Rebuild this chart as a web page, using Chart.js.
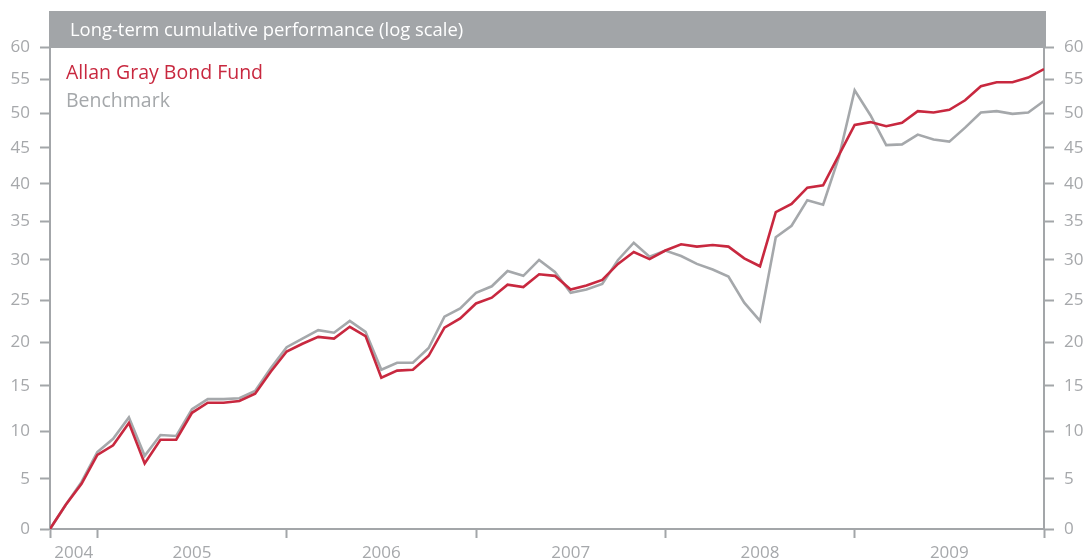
<!DOCTYPE html>
<html>
<head>
<meta charset="utf-8">
<script src="https://cdn.jsdelivr.net/npm/chart.js@4.4.1/dist/chart.umd.min.js"></script>
<style>
  html, body { margin: 0; padding: 0; background: #ffffff; }
  #wrap { width: 1089px; height: 560px; position: relative; }
</style>
</head>
<body>
<div id="wrap"><canvas id="c" width="1089" height="560"></canvas></div>
<script>
// ---- Data (cumulative performance, %), monthly from end Sep 2004 to end Dec 2009 ----
const months = [
  'Sep 2004','Oct 2004','Nov 2004','Dec 2004',
  'Jan 2005','Feb 2005','Mar 2005','Apr 2005','May 2005','Jun 2005','Jul 2005','Aug 2005','Sep 2005','Oct 2005','Nov 2005','Dec 2005',
  'Jan 2006','Feb 2006','Mar 2006','Apr 2006','May 2006','Jun 2006','Jul 2006','Aug 2006','Sep 2006','Oct 2006','Nov 2006','Dec 2006',
  'Jan 2007','Feb 2007','Mar 2007','Apr 2007','May 2007','Jun 2007','Jul 2007','Aug 2007','Sep 2007','Oct 2007','Nov 2007','Dec 2007',
  'Jan 2008','Feb 2008','Mar 2008','Apr 2008','May 2008','Jun 2008','Jul 2008','Aug 2008','Sep 2008','Oct 2008','Nov 2008','Dec 2008',
  'Jan 2009','Feb 2009','Mar 2009','Apr 2009','May 2009','Jun 2009','Jul 2009','Aug 2009','Sep 2009','Oct 2009','Nov 2009','Dec 2009'
];
const fundValues = [
  0, 2.4, 4.5, 7.5,
  8.5, 10.9, 6.6, 9.1, 9.1, 12.0, 13.1, 13.1, 13.3, 14.1, 16.6, 18.9,
  19.8, 20.6, 20.4, 21.8, 20.7, 15.9, 16.7, 16.8, 18.4, 21.7, 22.8, 24.6,
  25.3, 26.9, 26.6, 28.2, 28.0, 26.3, 26.8, 27.5, 29.5, 31.0, 30.1, 31.2,
  32.0, 31.7, 31.9, 31.7, 30.2, 29.2, 36.2, 37.3, 39.5, 39.8, 44.0, 48.3,
  48.7, 48.1, 48.6, 50.3, 50.1, 50.5, 51.9, 54.0, 54.6, 54.6, 55.3, 56.6
];
const benchmarkValues = [
  0, 2.4, 4.7, 7.8,
  9.2, 11.5, 7.4, 9.6, 9.5, 12.4, 13.5, 13.5, 13.6, 14.4, 17.0, 19.4,
  20.4, 21.4, 21.1, 22.5, 21.2, 16.8, 17.6, 17.6, 19.3, 23.0, 24.0, 25.9,
  26.7, 28.6, 28.0, 30.0, 28.5, 25.9, 26.3, 27.0, 30.0, 32.2, 30.4, 31.2,
  30.5, 29.5, 28.8, 27.9, 24.7, 22.5, 32.9, 34.4, 37.8, 37.2, 43.7, 53.4,
  49.7, 45.4, 45.5, 46.9, 46.2, 45.9, 47.9, 50.1, 50.3, 49.9, 50.1, 51.8
];
const seriesNames = ['Allan Gray Bond Fund', 'Benchmark'];
const titleText = 'Long-term cumulative performance (log scale)';
const yearLabels = ['2004', '2005', '2006', '2007', '2008', '2009'];
const yearLabelPositions = [1.5, 9, 21, 33, 45, 57];      // month index (mid-year)
const yearBoundaryPositions = [0, 3, 15, 27, 39, 51, 63]; // month index (year starts)
const yTickValues = [0, 5, 10, 15, 20, 25, 30, 35, 40, 45, 50, 55, 60];

// ---- Styles ----
const RED = '#c8283f';
const GREY_LINE = '#a5a8ab';
const AXIS = '#a3a6a9';
const TEXT = '#a6a8ab';
const BAR = '#a2a5a8';
const FONT = "'Open Sans', 'Noto Sans', sans-serif";

// ---- Custom "cumulative log" scale: position ~ ln(1 + v/100) ----
class CumLogScale extends Chart.LinearScale {
  static id = 'cumlog';
  static defaults = {};
  _f(v) { return Math.log(1 + v / 100); }
  getPixelForValue(value) {
    if (value === null || value === undefined || isNaN(value)) return NaN;
    const a = this._f(this.min), b = this._f(this.max);
    return this.getPixelForDecimal((this._f(value) - a) / (b - a));
  }
  getValueForPixel(pixel) {
    const d = this.getDecimalForPixel(pixel);
    const a = this._f(this.min), b = this._f(this.max);
    return (Math.exp(a + d * (b - a)) - 1) * 100;
  }
}
Chart.register(CumLogScale);

const titleBarPlugin = {
  id: 'titleBar',
  beforeDraw(chart) {
    const { ctx, chartArea } = chart;
    ctx.save();
    ctx.fillStyle = BAR;
    ctx.fillRect(chartArea.left - 1, 11, chartArea.right - chartArea.left + 3, chartArea.top - 11 + 1);
    ctx.fillStyle = '#ffffff';
    ctx.font = '18.4px ' + FONT;
    ctx.textBaseline = 'middle';
    ctx.textAlign = 'left';
    ctx.fillText(titleText, chartArea.left + 20, 31);
    ctx.restore();
  }
};

const innerLegendPlugin = {
  id: 'innerLegend',
  afterDraw(chart) {
    const { ctx, chartArea } = chart;
    ctx.save();
    ctx.font = '19.5px ' + FONT;
    ctx.textBaseline = 'middle';
    ctx.textAlign = 'left';
    chart.data.datasets.forEach((ds, i) => {
      ctx.fillStyle = ds.borderColor;
      ctx.fillText(ds.label, chartArea.left + 16, 73 + i * 28);
    });
    ctx.restore();
  }
};

const yAxis = (position, width) => ({
  type: 'cumlog',
  position: position,
  min: 0,
  max: 60,
  afterBuildTicks: (scale) => { scale.ticks = yTickValues.map(v => ({ value: v })); },
  afterFit: (scale) => { scale.width = width; },
  grid: {
    drawOnChartArea: false,
    drawTicks: true,
    tickLength: 10,
    tickWidth: 2,
    tickColor: AXIS
  },
  border: { display: true, color: AXIS, width: 2 },
  ticks: {
    color: TEXT,
    font: { family: FONT, size: 17 },
    padding: 10,
    autoSkip: false
  }
});

new Chart(document.getElementById('c'), {
  type: 'line',
  data: {
    datasets: [
      {
        label: seriesNames[0],
        data: fundValues.map((v, i) => ({ x: i, y: v })),
        borderColor: RED,
        backgroundColor: RED,
        borderWidth: 2.6,
        pointRadius: 0,
        tension: 0,
        yAxisID: 'y'
      },
      {
        label: seriesNames[1],
        data: benchmarkValues.map((v, i) => ({ x: i, y: v })),
        borderColor: GREY_LINE,
        backgroundColor: GREY_LINE,
        borderWidth: 2.6,
        pointRadius: 0,
        tension: 0,
        yAxisID: 'y'
      }
    ]
  },
  options: {
    responsive: false,
    animation: false,
    devicePixelRatio: 1,
    layout: { padding: { top: 47, left: 0, right: 0, bottom: 0 } },
    plugins: {
      legend: { display: false },
      title: { display: false },
      tooltip: { enabled: false }
    },
    scales: {
      x: {
        type: 'linear',
        min: 0,
        max: months.length - 1,
        afterBuildTicks: (scale) => {
          scale.ticks = yearBoundaryPositions.concat(yearLabelPositions)
            .sort((a, b) => a - b)
            .map(v => ({ value: v }));
        },
        afterFit: (scale) => { scale.height = 31; },
        grid: {
          drawOnChartArea: false,
          drawTicks: true,
          tickLength: 9,
          tickWidth: 2,
          tickColor: (ctx) => (ctx.tick && yearLabelPositions.includes(ctx.tick.value)) ? 'rgba(0,0,0,0)' : AXIS
        },
        border: { display: true, color: AXIS, width: 2 },
        ticks: {
          color: TEXT,
          font: { family: FONT, size: 17 },
          padding: 5,
          autoSkip: false,
          maxRotation: 0,
          callback: (value) => {
            const k = yearLabelPositions.indexOf(value);
            return k >= 0 ? yearLabels[k] : '';
          }
        }
      },
      y: yAxis('left', 50),
      y2: yAxis('right', 45)
    }
  },
  plugins: [titleBarPlugin, innerLegendPlugin]
});
</script>
</body>
</html>
